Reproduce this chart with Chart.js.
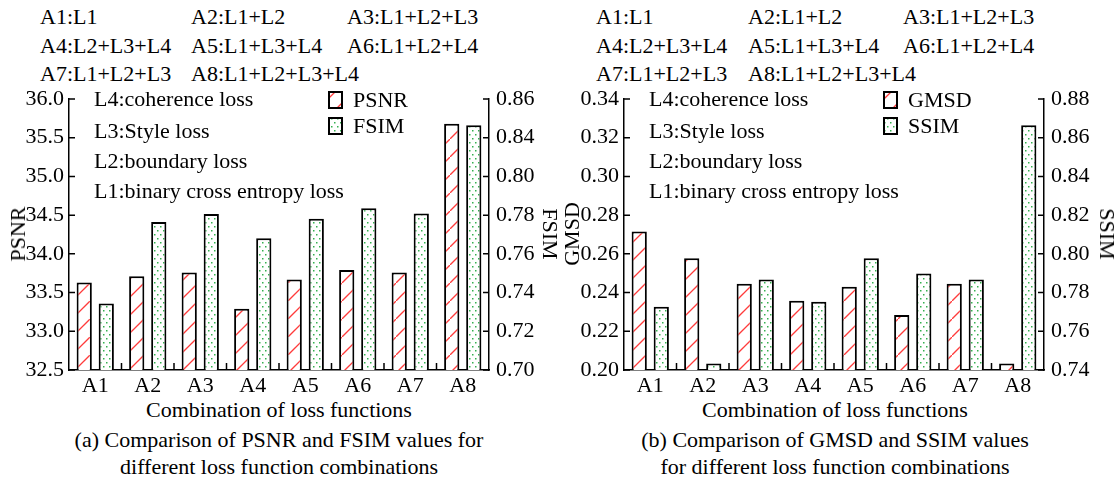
<!DOCTYPE html>
<html lang="en">
<head>
  <meta charset="UTF-8" />
  <title>Loss function combinations</title>
  <script src="https://cdn.jsdelivr.net/npm/chart.js"></script>
  <style>
    body { margin: 0; background: #fff; }
    .page {
      position: relative;
      width: 1117px;
      height: 478px;
      font-family: "Liberation Serif", "Times New Roman", serif;
      color: #000;
    }
    .t {
      position: absolute;
      font-size: 22px;
      line-height: 20px;
      white-space: nowrap;
    }
    .c { transform: translateX(-50%); }
    .rot-l { transform: translate(-50%, -50%) rotate(-90deg); }
    .rot-r { transform: translate(-50%, -50%) rotate(90deg); }
    .box { position: absolute; top: 85px; height: 310px; }
  </style>
</head>
<body>
  <div class="page">
    <!-- header, left -->
    <div class="t" style="left:40px;top:7px">A1:L1</div>
    <div class="t" style="left:191px;top:7px">A2:L1+L2</div>
    <div class="t" style="left:347px;top:7px">A3:L1+L2+L3</div>
    <div class="t" style="left:40px;top:36px">A4:L2+L3+L4</div>
    <div class="t" style="left:191px;top:36px">A5:L1+L3+L4</div>
    <div class="t" style="left:347px;top:36px">A6:L1+L2+L4</div>
    <div class="t" style="left:40px;top:64px">A7:L1+L2+L3</div>
    <div class="t" style="left:191px;top:64px">A8:L1+L2+L3+L4</div>
    <!-- header, right -->
    <div class="t" style="left:596px;top:7px">A1:L1</div>
    <div class="t" style="left:748px;top:7px">A2:L1+L2</div>
    <div class="t" style="left:903px;top:7px">A3:L1+L2+L3</div>
    <div class="t" style="left:596px;top:36px">A4:L2+L3+L4</div>
    <div class="t" style="left:748px;top:36px">A5:L1+L3+L4</div>
    <div class="t" style="left:903px;top:36px">A6:L1+L2+L4</div>
    <div class="t" style="left:596px;top:64px">A7:L1+L2+L3</div>
    <div class="t" style="left:748px;top:64px">A8:L1+L2+L3+L4</div>

    <div class="box" style="left:0;width:556px"><canvas id="chartA"></canvas></div>
    <div class="box" style="left:556px;width:561px"><canvas id="chartB"></canvas></div>

    <!-- notes inside the plots -->
    <div class="t" style="left:94px;top:89px">L4:coherence loss</div>
    <div class="t" style="left:94px;top:121px">L3:Style loss</div>
    <div class="t" style="left:94px;top:151px">L2:boundary loss</div>
    <div class="t" style="left:94px;top:181px">L1:binary cross entropy loss</div>
    <div class="t" style="left:649px;top:89px">L4:coherence loss</div>
    <div class="t" style="left:649px;top:121px">L3:Style loss</div>
    <div class="t" style="left:649px;top:151px">L2:boundary loss</div>
    <div class="t" style="left:649px;top:181px">L1:binary cross entropy loss</div>

    <!-- axis titles -->
    <div class="t rot-l" style="left:18px;top:234px">PSNR</div>
    <div class="t rot-r" style="left:550px;top:234px">FSIM</div>
    <div class="t rot-l" style="left:572px;top:234px">GMSD</div>
    <div class="t rot-r" style="left:1107px;top:234px">SSIM</div>

    <!-- captions -->
    <div class="t c" style="left:279px;top:400px">Combination of loss functions</div>
    <div class="t c" style="left:279px;top:430px">(a) Comparison of PSNR and FSIM values for</div>
    <div class="t c" style="left:279px;top:457px">different loss function combinations</div>
    <div class="t c" style="left:835px;top:400px">Combination of loss functions</div>
    <div class="t c" style="left:835px;top:430px">(b) Comparison of GMSD and SSIM values</div>
    <div class="t c" style="left:835px;top:457px">for different loss function combinations</div>
  </div>

  <script>
    const categories = ["A1", "A2", "A3", "A4", "A5", "A6", "A7", "A8"];

    const psnrValues = [33.63, 33.71, 33.76, 33.29, 33.67, 33.79, 33.76, 35.68];
    const fsimValues = [0.7344, 0.7765, 0.7806, 0.7680, 0.7782, 0.7835, 0.7809, 0.8264];
    const gmsdValues = [0.2715, 0.2577, 0.2446, 0.2358, 0.2430, 0.2284, 0.2446, 0.2033];
    const ssimValues = [0.7727, 0.7433, 0.7868, 0.7753, 0.7977, 0.7898, 0.7868, 0.8664];

    // [min, max, step]
    const psnrRange = [32.5, 36.0, 0.5];
    const fsimRange = [0.70, 0.84, 0.02];
    const gmsdRange = [0.20, 0.34, 0.02];
    const ssimRange = [0.74, 0.88, 0.02];

    // the printed FSIM axis skips 0.82
    const fsimTickLabels = ["0.70", "0.72", "0.74", "0.76", "0.78", "0.80", "0.84", "0.86"];

    const FONT = { family: "'Liberation Serif', 'Times New Roman', serif", size: 22 };

    function hatchPattern() {
      const c = document.createElement("canvas");
      c.width = 18; c.height = 18;
      const g = c.getContext("2d");
      g.fillStyle = "#fff";
      g.fillRect(0, 0, 18, 18);
      g.strokeStyle = "#ff3b3b";
      g.lineWidth = 1.3;
      g.beginPath();
      g.moveTo(-1, 19); g.lineTo(19, -1);
      g.stroke();
      return g.createPattern(c, "repeat");
    }

    function dotPattern() {
      const c = document.createElement("canvas");
      c.width = 6; c.height = 8;
      const g = c.getContext("2d");
      g.fillStyle = "#fff";
      g.fillRect(0, 0, 6, 8);
      g.fillStyle = "#34b04f";
      g.fillRect(1, 1, 1.5, 1.5);
      g.fillRect(4, 5, 1.5, 1.5);
      return g.createPattern(c, "repeat");
    }

    const redHatch = hatchPattern();
    const greenDots = dotPattern();

    // ticks pointing into the plot
    const innerTicks = {
      id: "innerTicks",
      afterDatasetsDraw(chart) {
        const { ctx, chartArea: a, scales } = chart;
        ctx.save();
        ctx.strokeStyle = "#000";
        ctx.lineWidth = 1.5;
        ctx.beginPath();
        scales.y.ticks.forEach((t, i) => {
          const y = scales.y.getPixelForTick(i);
          ctx.moveTo(a.left, y); ctx.lineTo(a.left + 6, y);
        });
        scales.y1.ticks.forEach((t, i) => {
          const y = scales.y1.getPixelForTick(i);
          ctx.moveTo(a.right, y); ctx.lineTo(a.right - 6, y);
        });
        for (let i = 1; i < categories.length; i++) {
          const x = (scales.x.getPixelForTick(i - 1) + scales.x.getPixelForTick(i)) / 2;
          ctx.moveTo(x, a.bottom); ctx.lineTo(x, a.bottom - 7);
        }
        ctx.stroke();
        ctx.restore();
      }
    };

    const boxLegend = {
      id: "boxLegend",
      afterDraw(chart) {
        const { ctx, chartArea: a } = chart;
        ctx.save();
        ctx.font = FONT.size + "px " + FONT.family;
        ctx.textBaseline = "middle";
        chart.data.datasets.forEach((ds, i) => {
          const x = a.left + 260, y = a.top - 7 + i * 26;
          ctx.fillStyle = ds.backgroundColor;
          ctx.fillRect(x, y, 13, 16);
          ctx.strokeStyle = "#000";
          ctx.lineWidth = 2;
          ctx.strokeRect(x, y, 13, 16);
          ctx.fillStyle = "#000";
          ctx.fillText(ds.label, x + 24, y + 9);
        });
        ctx.restore();
      }
    };

    function makeChart(id, opts) {
      const yAxis = (range, side, width, fmt) => ({
        type: "linear",
        position: side,
        min: range[0],
        max: range[1],
        grid: { display: false, drawTicks: false, tickLength: 0 },
        border: { display: true, color: "#000", width: 1.5 },
        ticks: {
          stepSize: range[2],
          color: "#000",
          font: FONT,
          padding: side === "left" ? 5 : 7,
          callback: fmt
        },
        afterFit: s => {
          s.width = width;
          s.paddingTop = 0;
          s.paddingBottom = 0;
        }
      });

      return new Chart(document.getElementById(id), {
        type: "bar",
        data: {
          labels: categories,
          datasets: [
            {
              label: opts.leftName,
              data: opts.leftData,
              yAxisID: "y",
              backgroundColor: redHatch,
              borderColor: "#000",
              borderWidth: 2
            },
            {
              label: opts.rightName,
              data: opts.rightData,
              yAxisID: "y1",
              backgroundColor: greenDots,
              borderColor: "#000",
              borderWidth: 2
            }
          ]
        },
        options: {
          responsive: true,
          maintainAspectRatio: false,
          animation: false,
          layout: { padding: { top: 14 } },
          categoryPercentage: 0.84,
          barPercentage: 0.69,
          plugins: { legend: { display: false }, tooltip: { enabled: false } },
          scales: {
            x: {
              grid: { display: false, drawTicks: false, tickLength: 0 },
              border: { display: true, color: "#000", width: 1.5 },
              ticks: { color: "#000", font: FONT, padding: 3 },
              afterFit: s => { s.height = 25; }
            },
            y: yAxis(opts.leftRange, "left", opts.leftWidth, opts.leftFmt),
            y1: yAxis(opts.rightRange, "right", opts.rightWidth, opts.rightFmt)
          }
        },
        plugins: [innerTicks, boxLegend]
      });
    }

    makeChart("chartA", {
      leftName: "PSNR", leftData: psnrValues, leftRange: psnrRange, leftWidth: 69,
      leftFmt: v => Number(v).toFixed(1),
      rightName: "FSIM", rightData: fsimValues, rightRange: fsimRange, rightWidth: 67,
      rightFmt: (v, i) => fsimTickLabels[i]
    });

    makeChart("chartB", {
      leftName: "GMSD", leftData: gmsdValues, leftRange: gmsdRange, leftWidth: 68,
      leftFmt: v => Number(v).toFixed(2),
      rightName: "SSIM", rightData: ssimValues, rightRange: ssimRange, rightWidth: 73,
      rightFmt: v => Number(v).toFixed(2)
    });
  </script>
</body>
</html>
